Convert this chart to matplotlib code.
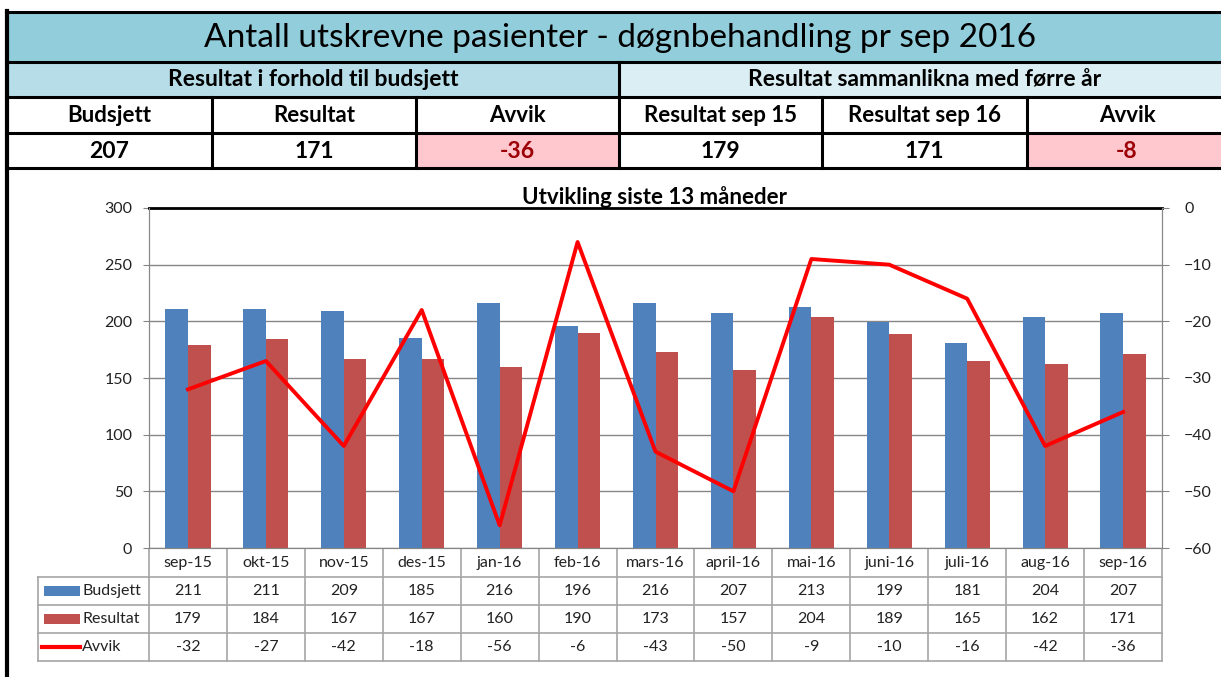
#====== Librerías ======
import matplotlib
matplotlib.use("Agg")
import matplotlib.pyplot as plt
from matplotlib.patches import Rectangle
from matplotlib.transforms import blended_transform_factory


#====== Datos ======
meses = ["sep-15", "okt-15", "nov-15", "des-15", "jan-16", "feb-16", "mars-16",
         "april-16", "mai-16", "juni-16", "juli-16", "aug-16", "sep-16"]
budsjett = [211, 211, 209, 185, 216, 196, 216, 207, 213, 199, 181, 204, 207]
resultat = [179, 184, 167, 167, 160, 190, 173, 157, 204, 189, 165, 162, 171]
avvik = [-32, -27, -42, -18, -56, -6, -43, -50, -9, -10, -16, -42, -36]
series = ["Budsjett", "Resultat", "Avvik"]

titulo = "Antall utskrevne pasienter - døgnbehandling pr sep 2016"
grupos = ["Resultat i forhold til budsjett", "Resultat sammanlikna med førre år"]
encabezados = ["Budsjett", "Resultat", "Avvik", "Resultat sep 15", "Resultat sep 16", "Avvik"]
valores = [207, 171, -36, 179, 171, -8]
titulo_grafico = "Utvikling siste 13 måneder"

# colores (estilo Excel)
azul = "#4F81BD"
rojo = "#C0504D"
linea_roja = "#FF0000"
gris = "#A6A6A6"

plt.rcParams['font.family'] = ['Lato', 'DejaVu Sans']

W, H = 1221, 677
fig = plt.figure(figsize=(W / 100, H / 100), dpi=100)

# ejes de fondo en pixeles para la tabla de cabecera
fondo = fig.add_axes([0, 0, 1, 1])
fondo.set_xlim(0, W)
fondo.set_ylim(H, 0)
fondo.axis('off')

#====== Cabecera ======
col_x = [7, 212, 416, 619, 822, 1027, 1240]
fondo.add_patch(Rectangle((7, 12), 1240, 50, facecolor="#92CDDC", edgecolor="none"))
fondo.add_patch(Rectangle((7, 62), 612, 35, facecolor="#B7DEE8", edgecolor="none"))
fondo.add_patch(Rectangle((619, 62), 620, 35, facecolor="#DAEEF3", edgecolor="none"))
for i, v in enumerate(valores):
    if v < 0:
        fondo.add_patch(Rectangle((col_x[i], 133), col_x[i + 1] - col_x[i], 35,
                                  facecolor="#FFC7CE", edgecolor="none"))

fondo.text(620, 38, titulo, ha='center', va='center', fontsize=24, color="black")
fondo.text(313, 80, grupos[0], ha='center', va='center', fontsize=16.5, fontweight='bold')
fondo.text(925, 80, grupos[1], ha='center', va='center', fontsize=16.5, fontweight='bold')
for i in range(6):
    xc = (col_x[i] + col_x[i + 1]) / 2
    if i == 5:
        xc = 1127
    fondo.text(xc, 116, encabezados[i], ha='center', va='center', fontsize=16, fontweight='bold')
    color_v = "#9C0006" if valores[i] < 0 else "black"
    fondo.text(xc, 151, str(valores[i]), ha='center', va='center', fontsize=16.5,
               fontweight='bold', color=color_v)

# bordes negros
for y in [12, 62, 97, 133, 168]:
    fondo.plot([6, 1240], [y, y], color="black", lw=2.2)
fondo.plot([619, 619], [62, 97], color="black", lw=2.2)
for x in col_x[1:-1]:
    fondo.plot([x, x], [97, 168], color="black", lw=2.2)
fondo.plot([7, 7], [11, H], color="black", lw=3)

#====== Gráfico ======
x0, x1 = 149, 1162
y_cero, y_top = 548, 208
ax = fig.add_axes([x0 / W, 1 - y_cero / H, (x1 - x0) / W, (y_cero - y_top) / H])
ax.patch.set_alpha(0)

pos = list(range(len(meses)))
ancho = 0.29
ax.bar([p - ancho / 2 for p in pos], budsjett, width=ancho, color=azul, zorder=2)
ax.bar([p + ancho / 2 for p in pos], resultat, width=ancho, color=rojo, zorder=2)
ax.set_xlim(-0.5, len(meses) - 0.5)
ax.set_ylim(0, 300)
ax.set_yticks(range(0, 301, 50))
ax.yaxis.grid(True, color="#868686", lw=1)
ax.set_axisbelow(True)
ax.tick_params(axis='x', bottom=False, labelbottom=False)
ax.tick_params(axis='y', length=4, color="#868686", pad=8, labelsize=11.5, labelcolor="#222222")
ax.spines['top'].set_color("black")
ax.spines['top'].set_linewidth(2)
for lado in ['left', 'right', 'bottom']:
    ax.spines[lado].set_color("#868686")

ax2 = ax.twinx()
ax2.plot(pos, avvik, color=linea_roja, lw=2.8, zorder=3)
ax2.set_ylim(-60, 0)
ax2.set_yticks(range(-60, 1, 10))
ax2.tick_params(axis='y', length=5, color="#868686", pad=11, labelsize=11.5, labelcolor="#222222")
for lado in ['left', 'right', 'bottom']:
    ax2.spines[lado].set_color("#868686")
ax2.spines['top'].set_visible(False)

fondo.text(655, 197, titulo_grafico, ha='center', va='center', fontsize=16, fontweight='bold')

#====== Tabla de datos ======
tr = blended_transform_factory(ax.transData, fondo.transData)
filas_y = [549, 577, 605, 633, 661]
for y in filas_y[1:]:
    fondo.plot([-0.5, len(meses) - 0.5], [y, y], color=gris, lw=1.2, transform=tr)
    fondo.plot([38, x0], [y, y], color=gris, lw=1.2)
for p in pos + [len(meses)]:
    fondo.plot([p - 0.5, p - 0.5], [filas_y[0], filas_y[-1]], color=gris, lw=1.2, transform=tr)
fondo.plot([38, 38], [filas_y[1], filas_y[-1]], color=gris, lw=1.2)

filas = [budsjett, resultat, avvik]
for p in pos:
    fondo.text(p, 563, meses[p], transform=tr, ha='center', va='center', fontsize=11.5, color="#222222")
    for k, fila in enumerate(filas):
        yc = (filas_y[k + 1] + filas_y[k + 2]) / 2
        fondo.text(p, yc, str(fila[p]), transform=tr, ha='center', va='center',
                   fontsize=11.5, color="#222222")

# leyenda dentro de la tabla
for k, nombre in enumerate(series):
    yc = (filas_y[k + 1] + filas_y[k + 2]) / 2
    if k < 2:
        fondo.add_patch(Rectangle((44, yc - 5), 36, 10, facecolor=[azul, rojo][k], edgecolor="none"))
    else:
        fondo.plot([42, 80], [yc, yc], color=linea_roja, lw=3)
    fondo.text(82, yc, nombre, ha='left', va='center', fontsize=11.5, color="#222222")

fig.savefig("out.png", dpi=100)
